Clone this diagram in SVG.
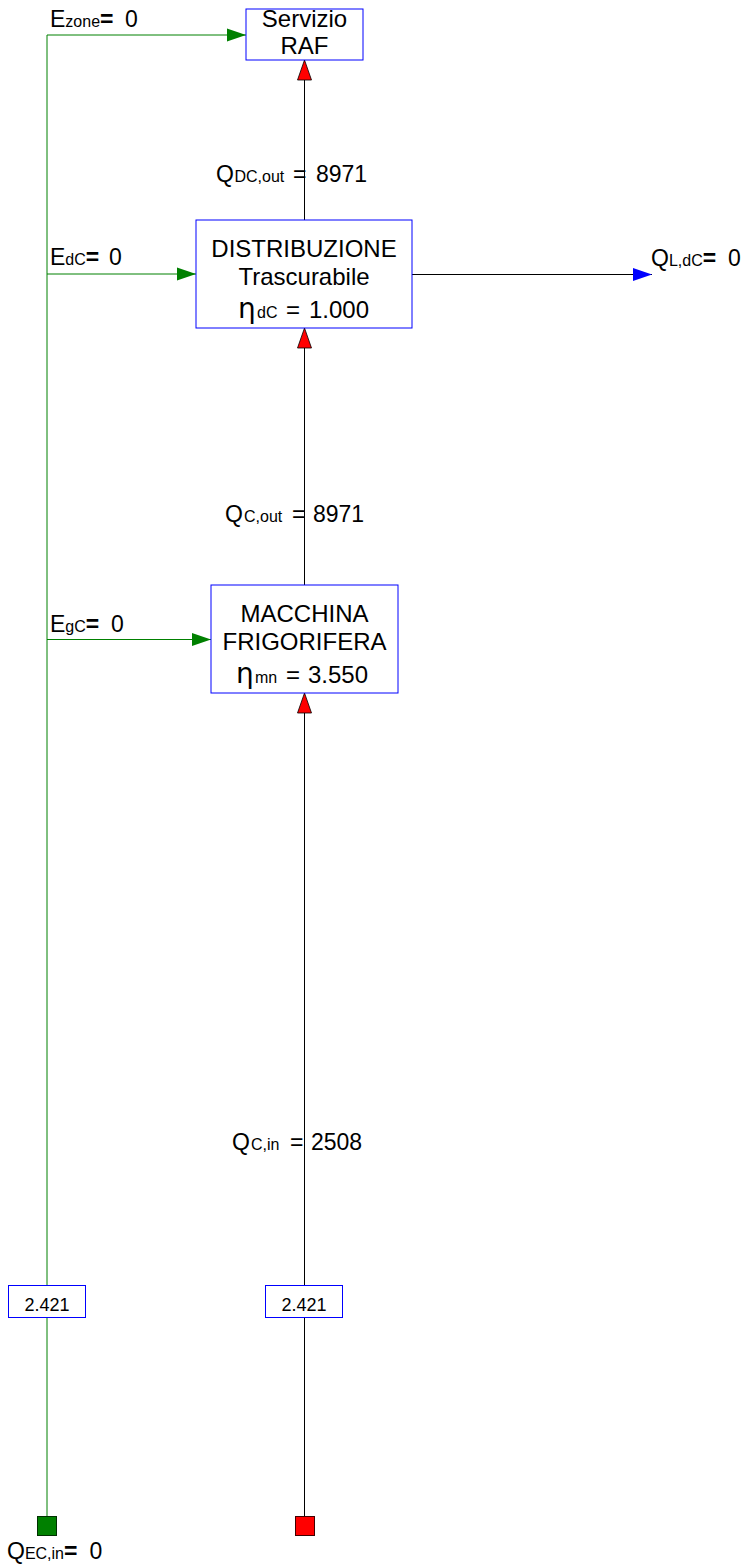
<svg xmlns="http://www.w3.org/2000/svg" width="745" height="1565" viewBox="0 0 745 1565">
<style>
text{font-family:"Liberation Sans",Arial,sans-serif;fill:#000}
.lbl{font-size:23px}
.box{font-size:24px}
.sub{font-size:16px}
.eq{font-weight:bold}
.eta{font-size:28px;font-family:"DejaVu Sans","Liberation Sans",sans-serif}
.node{fill:#fff;stroke:#0000ff;stroke-width:1}
.g{fill:none;stroke:#008000;stroke-width:1}
.k{fill:none;stroke:#000;stroke-width:1}
</style>
<defs>
<marker id="ag" markerUnits="userSpaceOnUse" markerWidth="20" markerHeight="14" refX="19" refY="6.5" orient="auto" overflow="visible"><path d="M0,0 L19,6.5 L0,13 z" fill="#008000"/></marker>
<marker id="ab" markerUnits="userSpaceOnUse" markerWidth="20" markerHeight="14" refX="19" refY="6.5" orient="auto" overflow="visible"><path d="M0,0 L19,6.5 L0,13 z" fill="#0000ff"/></marker>
<marker id="ar" markerUnits="userSpaceOnUse" markerWidth="21" markerHeight="15" refX="20" refY="7" orient="auto" overflow="visible"><path d="M0,0 L20,7 L0,14 z" fill="#ff0000" stroke="#000" stroke-width="0.8"/></marker>
</defs>
<g id="connectors">
<path class="g" d="M47,1516 V35 H246" marker-end="url(#ag)"/>
<path class="g" d="M47,274 H196" marker-end="url(#ag)"/>
<path class="g" d="M47,639.5 H211" marker-end="url(#ag)"/>
<path class="k" d="M304.5,1516 V693" marker-end="url(#ar)"/>
<path class="k" d="M304.5,585 V328" marker-end="url(#ar)"/>
<path class="k" d="M304.5,220 V60" marker-end="url(#ar)"/>
<path class="k" d="M412,274.5 H652" marker-end="url(#ab)"/>
</g>
<g id="servizio">
<rect class="node" x="246" y="9" width="117" height="51"/>
<text class="box" x="304.5" y="27" text-anchor="middle">Servizio</text>
<text class="box" x="304.5" y="54" text-anchor="middle">RAF</text>
</g>
<g id="distribuzione">
<rect class="node" x="196" y="220" width="216" height="108"/>
<text class="box" x="304" y="257" text-anchor="middle">DISTRIBUZIONE</text>
<text class="box" x="304" y="285" text-anchor="middle">Trascurabile</text>
<text class="box" y="318"><tspan class="eta" x="238">η</tspan><tspan class="sub" x="257">dC</tspan><tspan x="286">=</tspan><tspan x="309">1.000</tspan></text>
</g>
<g id="macchina">
<rect class="node" x="211" y="585" width="187" height="108"/>
<text class="box" x="304.5" y="622" text-anchor="middle">MACCHINA</text>
<text class="box" x="304.5" y="650" text-anchor="middle">FRIGORIFERA</text>
<text class="box" y="683"><tspan class="eta" x="236">η</tspan><tspan class="sub" x="255">mn</tspan><tspan x="286">=</tspan><tspan x="308">3.550</tspan></text>
</g>
<g id="conv-left">
<rect class="node" x="8.5" y="1285.5" width="77" height="32"/>
<text x="47" y="1311" font-size="18" text-anchor="middle">2.421</text>
</g>
<g id="conv-right">
<rect class="node" x="265.5" y="1285.5" width="77" height="32"/>
<text x="304" y="1311" font-size="18" text-anchor="middle">2.421</text>
</g>
<g id="source-green">
<rect x="37.5" y="1516.5" width="19" height="19" fill="#008000" stroke="#003000" stroke-width="1"/>
</g>
<g id="source-red">
<rect x="295.5" y="1516.5" width="19" height="19" fill="#ff0000" stroke="#400000" stroke-width="1"/>
</g>
<g id="labels">
<text class="lbl" y="27"><tspan x="50">E</tspan><tspan class="sub">zone</tspan><tspan class="eq">=</tspan><tspan x="125">0</tspan></text>
<text class="lbl" y="182"><tspan x="216">Q</tspan><tspan class="sub" x="234.5">DC,out</tspan><tspan x="293">=</tspan><tspan x="316">8971</tspan></text>
<text class="lbl" y="265"><tspan x="50">E</tspan><tspan class="sub">dC</tspan><tspan class="eq">=</tspan><tspan x="109">0</tspan></text>
<text class="lbl" y="266"><tspan x="651">Q</tspan><tspan class="sub">L,dC</tspan><tspan class="eq">=</tspan><tspan x="728">0</tspan></text>
<text class="lbl" y="522"><tspan x="225">Q</tspan><tspan class="sub" x="244">C,out</tspan><tspan x="292">=</tspan><tspan x="313">8971</tspan></text>
<text class="lbl" y="632"><tspan x="50">E</tspan><tspan class="sub">gC</tspan><tspan class="eq">=</tspan><tspan x="111">0</tspan></text>
<text class="lbl" y="1150"><tspan x="232">Q</tspan><tspan class="sub" x="251">C,in</tspan><tspan x="290">=</tspan><tspan x="311">2508</tspan></text>
<text class="lbl" y="1559"><tspan x="7">Q</tspan><tspan class="sub">EC,in</tspan><tspan class="eq">=</tspan><tspan x="89.5">0</tspan></text>
</g>
</svg>
